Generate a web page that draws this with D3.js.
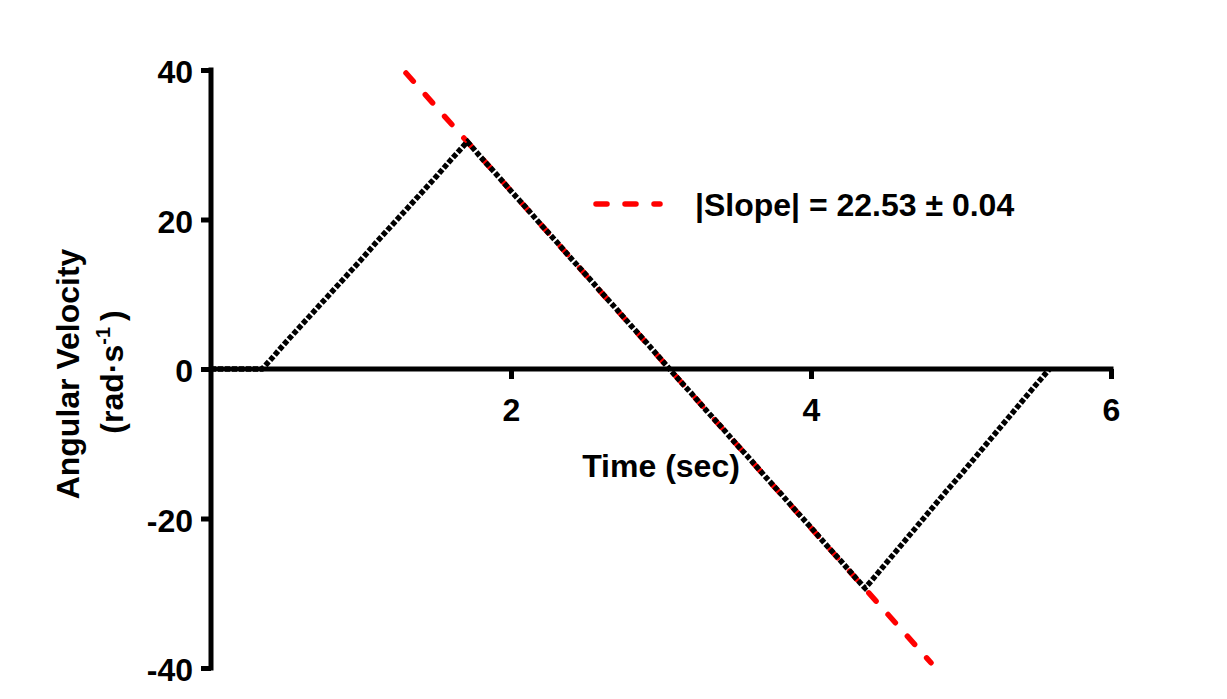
<!DOCTYPE html>
<html>
<head>
<meta charset="utf-8">
<script src="https://cdn.jsdelivr.net/npm/d3@7"></script>
<style>
  html, body { margin: 0; padding: 0; background: #fff; }
  svg { display: block; }
  text { font-family: "Liberation Sans", Arial, sans-serif; font-weight: bold; fill: #000; }
</style>
</head>
<body>
<svg id="chart" width="1227" height="699"></svg>
<script>
// ---- data ----
const timeSec = [0, 0.1, 0.2, 0.3, 0.34, 0.4, 0.5, 0.6, 0.7, 0.8, 0.9, 1.0, 1.1, 1.2, 1.3, 1.4, 1.5, 1.6, 1.7, 1.71,
  1.8, 1.9, 2.0, 2.1, 2.2, 2.3, 2.4, 2.5, 2.6, 2.7, 2.8, 2.9, 3.0, 3.1, 3.2, 3.3, 3.4, 3.5, 3.6, 3.7, 3.8, 3.9, 4.0,
  4.1, 4.2, 4.3, 4.36, 4.4, 4.5, 4.6, 4.7, 4.8, 4.9, 5.0, 5.1, 5.2, 5.3, 5.4, 5.5, 5.59];
const angVel = [0, 0, 0, 0, 0, 1.3, 3.6, 5.8, 8.0, 10.2, 12.4, 14.6, 16.9, 19.1, 21.3, 23.5, 25.7, 28.0, 30.2, 30.4,
  28.3, 26.1, 23.8, 21.6, 19.3, 17.1, 14.8, 12.6, 10.3, 8.1, 5.8, 3.6, 1.3, -1.0, -3.2, -5.5, -7.7, -10.0, -12.2, -14.5,
  -16.7, -19.0, -21.2, -23.5, -25.7, -28.0, -29.3, -28.4, -26.0, -23.6, -21.2, -18.8, -16.4, -14.1, -11.7, -9.3, -6.9,
  -4.5, -2.1, 0];
const fitTime = [1.3, 4.8];
const fitVel = [39.6, -39.3];
const xTicks = [2, 4, 6];
const yTicks = [-40, -20, 0, 20, 40];
const legendLabel = "|Slope| = 22.53 ± 0.04";
const xTitle = "Time (sec)";
const yTitle1 = "Angular Velocity";

// ---- layout ----
const svg = d3.select("#chart");
const x = d3.scaleLinear().domain([0, 6]).range([211, 1111]);
const y = d3.scaleLinear().domain([-40, 40]).range([668, 70]);
const FS = 32;

// fit line (drawn under data)
const line = d3.line().x(d => x(d[0])).y(d => y(d[1]));
svg.append("path")
  .attr("d", line(fitTime.map((t, i) => [t, fitVel[i]])))
  .attr("fill", "none").attr("stroke", "#ff0000").attr("stroke-width", 5.5)
  .attr("stroke-linecap", "round").attr("stroke-dasharray", "11,18");

// axes
const yAxis = svg.append("g").attr("transform", `translate(${x(0)},0)`)
  .call(d3.axisLeft(y).tickValues(yTicks).tickSize(10).tickSizeOuter(0).tickPadding(8).tickFormat(d3.format("d")));
const xAxis = svg.append("g").attr("transform", `translate(0,${y(0)})`)
  .call(d3.axisBottom(x).tickValues(xTicks).tickSize(10).tickSizeOuter(0).tickFormat(d3.format("d")));

[yAxis, xAxis].forEach(g => {
  g.select(".domain").attr("stroke", "#000").attr("stroke-width", 5);
  g.selectAll(".tick line").attr("stroke", "#000").attr("stroke-width", 5);
  g.selectAll(".tick text").attr("font-size", FS).attr("font-family", "Liberation Sans, Arial, sans-serif")
    .attr("font-weight", "bold").attr("fill", "#000");
});
yAxis.select(".domain").attr("d", `M0,${y(40) - 2.5}V${y(-40) + 2.5}`);
yAxis.selectAll(".tick text").attr("dy", "0.4em").text(d => d < 0 ? "-" + Math.abs(d) : d);
xAxis.select(".domain").attr("d", `M${x(0)},0H${x(6) + 2.5}`);
xAxis.selectAll(".tick text").attr("y", 52).attr("dy", 0);

// data (dotted)
svg.append("path")
  .attr("d", line(timeSec.map((t, i) => [t, angVel[i]])))
  .attr("fill", "none").attr("stroke", "#000").attr("stroke-width", 5.5)
  .attr("stroke-dasharray", "5,2").attr("stroke-linejoin", "miter");

// axis titles
svg.append("text").attr("x", (x(0) + x(6)) / 2).attr("y", 477)
  .attr("text-anchor", "middle").attr("font-size", FS).text(xTitle);

const yt = svg.append("g").attr("transform", "rotate(-90)");
yt.append("text").attr("x", -374).attr("y", 79).attr("text-anchor", "middle")
  .attr("font-size", FS).text(yTitle1);
const t2 = yt.append("text").attr("x", -372).attr("y", 123).attr("text-anchor", "middle").attr("font-size", FS);
t2.append("tspan").text("(rad\u00B7s");
t2.append("tspan").attr("font-size", 20).attr("dy", -13).text("-1");
t2.append("tspan").attr("dy", 13).attr("dx", 6).text(")");

// legend
svg.append("line").attr("x1", 596).attr("x2", 660).attr("y1", 204).attr("y2", 204)
  .attr("stroke", "#ff0000").attr("stroke-width", 5.5).attr("stroke-linecap", "round")
  .attr("stroke-dasharray", "11,18");
svg.append("text").attr("x", 695).attr("y", 216).attr("font-size", FS).text(legendLabel);
</script>
</body>
</html>
